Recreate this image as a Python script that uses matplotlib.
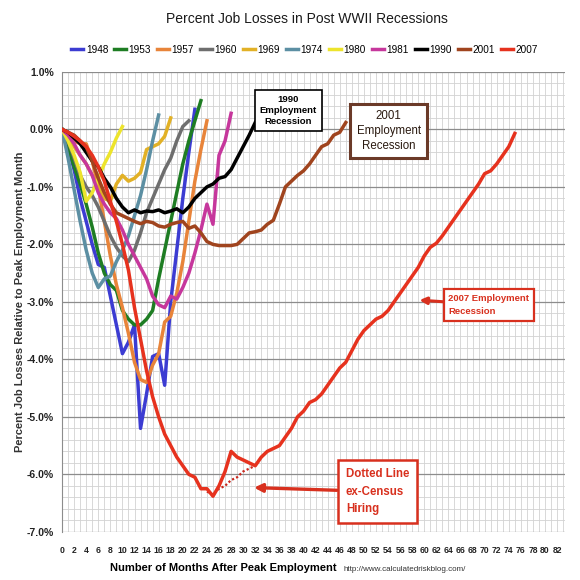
import matplotlib
matplotlib.use("Agg")
import matplotlib.pyplot as plt
import numpy as np
from matplotlib.ticker import MultipleLocator, FuncFormatter

plt.rcParams["font.family"] = ["Liberation Sans", "DejaVu Sans"]

# percent change in payroll employment vs months after the peak
YEARS = ["1948", "1953", "1957", "1960", "1969", "1974", "1980", "1981", "1990", "2001", "2007"]

R1948 = [0, -0.3, -0.7, -1.2, -1.6, -2.0, -2.35, -2.4, -2.9, -3.4, -3.9, -3.7, -3.4, -5.2,
         -4.6, -3.95, -3.9, -4.45, -3.0, -2.1, -1.2, -0.4, 0.35]
R1953 = [0, -0.3, -0.65, -0.95, -1.3, -1.7, -2.15, -2.5, -2.7, -2.8, -3.15, -3.3, -3.4, -3.4,
         -3.3, -3.15, -2.6, -2.1, -1.6, -1.1, -0.6, -0.2, 0.15, 0.5]
R1957 = [0, -0.1, -0.2, -0.25, -0.25, -0.55, -1.0, -1.6, -2.2, -2.7, -3.1, -3.55, -4.05,
         -4.35, -4.4, -4.1, -3.9, -3.35, -3.25, -2.85, -2.3, -1.6, -0.9, -0.35, 0.15]
R1960 = [0, -0.2, -0.5, -0.8, -1.0, -1.15, -1.35, -1.6, -1.85, -2.05, -2.2, -2.3, -2.1,
         -1.8, -1.45, -1.2, -0.95, -0.7, -0.5, -0.2, 0.05, 0.15]
R1969 = [0, -0.1, -0.3, -0.45, -0.6, -0.8, -1.0, -1.2, -1.25, -0.95, -0.8, -0.9, -0.85,
         -0.75, -0.35, -0.3, -0.25, -0.12, 0.2]
R1974 = [0, -0.5, -1.05, -1.6, -2.1, -2.5, -2.75, -2.6, -2.55, -2.3, -2.1, -1.85, -1.5,
         -1.15, -0.7, -0.2, 0.25]
R1980 = [0, -0.2, -0.45, -0.75, -1.25, -1.1, -0.85, -0.6, -0.4, -0.15, 0.05]
R1981 = [0, -0.1, -0.25, -0.45, -0.6, -0.8, -1.1, -1.3, -1.45, -1.55, -1.75, -2.0, -2.2,
         -2.4, -2.6, -2.9, -3.05, -3.1, -2.9, -2.95, -2.75, -2.5, -2.15, -1.75, -1.3, -1.65,
         -0.45, -0.2, 0.28]
R1990 = [0, -0.05, -0.15, -0.25, -0.4, -0.55, -0.65, -0.85, -1.0, -1.2, -1.35, -1.45, -1.4,
         -1.45, -1.42, -1.43, -1.4, -1.45, -1.42, -1.38, -1.45, -1.35, -1.2, -1.1, -1.0, -0.95,
         -0.85, -0.82, -0.7, -0.5, -0.3, -0.1, 0.12]
R2001 = [0, -0.05, -0.1, -0.2, -0.3, -0.55, -0.85, -1.1, -1.3, -1.45, -1.5, -1.55, -1.6,
         -1.64, -1.6, -1.62, -1.68, -1.7, -1.65, -1.62, -1.6, -1.72, -1.68, -1.8, -1.95, -2.0,
         -2.02, -2.02, -2.02, -2.0, -1.9, -1.8, -1.78, -1.75, -1.65, -1.58, -1.3, -1.0, -0.9,
         -0.8, -0.72, -0.6, -0.45, -0.3, -0.25, -0.1, -0.05, 0.12]
R2007 = [0, -0.05, -0.12, -0.2, -0.3, -0.45, -0.65, -0.9, -1.25, -1.6, -2.0, -2.45, -3.1,
         -3.65, -4.2, -4.65, -5.0, -5.3, -5.5, -5.7, -5.85, -6.0, -6.05, -6.25, -6.25, -6.38,
         -6.2, -5.95, -5.6, -5.7, -5.75, -5.8, -5.85, -5.7, -5.6, -5.55, -5.5, -5.35, -5.2,
         -5.0, -4.9, -4.75, -4.7, -4.6, -4.45, -4.3, -4.15, -4.05, -3.85, -3.65, -3.5, -3.4,
         -3.3, -3.25, -3.15, -3.0, -2.85, -2.7, -2.55, -2.4, -2.2, -2.05, -1.98, -1.85, -1.7,
         -1.55, -1.4, -1.25, -1.1, -0.95, -0.77, -0.72, -0.6, -0.45, -0.3, -0.07]
# 2007 excluding temporary census hiring (dotted), months 24..32
CENSUS_START = 24
R2007_EX_CENSUS = [-6.3, -6.35, -6.25, -6.2, -6.1, -6.05, -5.95, -5.9, -5.85]

SERIES = [R1948, R1953, R1957, R1960, R1969, R1974, R1980, R1981, R1990, R2001, R2007]
COLORS = ["#3C3CD2", "#1E7D23", "#E8843A", "#6E6E6E", "#E2B126", "#5C8FA3",
          "#EDE42C", "#C6379C", "#000000", "#A0441E", "#E6321E"]
X_TICKS = list(range(0, 83, 2))

fig = plt.figure(figsize=(5.8, 5.8), dpi=100)
ax = fig.add_axes([0.107, 0.083, 0.867, 0.793])

for i, (yr, vals, col) in enumerate(zip(YEARS, SERIES, COLORS)):
    lw = 3.0 if yr == "2007" else 1.6
    ax.plot(np.arange(len(vals)), vals, color=col, lw=lw, label=yr,
            zorder=3 + i, solid_joinstyle="round")

ax.plot(np.arange(CENSUS_START, CENSUS_START + len(R2007_EX_CENSUS)), R2007_EX_CENSUS,
        color="#C8281E", lw=1.6, ls=(0, (1, 1)), zorder=2)

ax.set_xlim(0, 83.3)
ax.set_ylim(-7.0, 1.0)
ax.set_xticks(X_TICKS)
ax.xaxis.set_minor_locator(MultipleLocator(1))
ax.yaxis.set_major_locator(MultipleLocator(1))
ax.yaxis.set_minor_locator(MultipleLocator(0.2))
ax.yaxis.set_major_formatter(FuncFormatter(lambda v, p: f"{v:.1f}%"))
ax.grid(which="major", axis="y", color="#8C8C8C", lw=0.9)
ax.grid(which="minor", axis="y", color="#D2D2D2", lw=0.6)
ax.grid(which="both", axis="x", color="#D2D2D2", lw=0.6)
ax.set_axisbelow(True)
ax.tick_params(which="both", length=0)
ax.tick_params(axis="x", pad=10, labelsize=6.2)
ax.tick_params(axis="y", pad=6, labelsize=7.5)
for lab in ax.get_xticklabels() + ax.get_yticklabels():
    lab.set_fontweight("bold")
    lab.set_color("#222222")
for side in ["top", "right"]:
    ax.spines[side].set_visible(False)
ax.spines["left"].set_color("#8C8C8C")
ax.spines["bottom"].set_visible(False)

ax.set_ylabel("Percent Job Losses Relative to Peak Employment Month", fontsize=8,
              fontweight="bold", color="#333333", labelpad=1)
fig.text(0.58, 0.012, "Number of Months After Peak Employment", fontsize=8,
         fontweight="bold", ha="right", va="bottom")
fig.text(0.592, 0.012, "http://www.calculatedriskblog.com/", fontsize=5.8,
         ha="left", va="bottom", color="#333333")

fig.text(0.53, 0.968, "Percent Job Losses in Post WWII Recessions", fontsize=10,
         ha="center", va="center", color="#1A1A1A")

handles, labels = ax.get_legend_handles_labels()
for h in handles:
    h.set_linewidth(2.5)
fig.legend(handles, labels, loc="center", bbox_to_anchor=(0.525, 0.914), ncol=11,
           frameon=False, handlelength=1.2, handletextpad=0.25, columnspacing=0.6,
           prop={"size": 7.2})

# callout boxes
ax.text(37.5, 0.33, "1990\nEmployment\nRecession", ha="center", va="center",
        fontsize=6.8, fontweight="bold", linespacing=1.3, zorder=20,
        bbox=dict(boxstyle="square,pad=0.5", fc="white", ec="black", lw=1.2))
ax.text(54.1, -0.03, "2001\nEmployment\nRecession", ha="center", va="center",
        fontsize=8.3, color="#2A1A10", linespacing=1.3, zorder=20,
        bbox=dict(boxstyle="square,pad=0.55", fc="white", ec="#6B3A28", lw=2.2))
ax.annotate("2007 Employment\nRecession", xy=(59.2, -2.97), xytext=(64.0, -3.05),
            ha="left", va="center", fontsize=6.8, fontweight="bold",
            color="#D8301E", linespacing=1.6, zorder=20,
            bbox=dict(boxstyle="square,pad=0.5", fc="white", ec="#D8301E", lw=1.6),
            arrowprops=dict(arrowstyle="-|>", color="#D8301E", lw=2.2,
                            mutation_scale=10, shrinkA=0, shrinkB=0))
ax.annotate("Dotted Line\nex-Census\nHiring", xy=(31.8, -6.23), xytext=(47.0, -6.3),
            ha="left", va="center", fontsize=8.3, fontweight="bold",
            color="#D8301E", linespacing=1.6, zorder=20,
            bbox=dict(boxstyle="square,pad=0.7", fc="white", ec="#D8301E", lw=1.8),
            arrowprops=dict(arrowstyle="-|>", color="#D8301E", lw=2.4,
                            mutation_scale=12, shrinkA=0, shrinkB=0))

fig.savefig("out.png", dpi=100, facecolor="white")
